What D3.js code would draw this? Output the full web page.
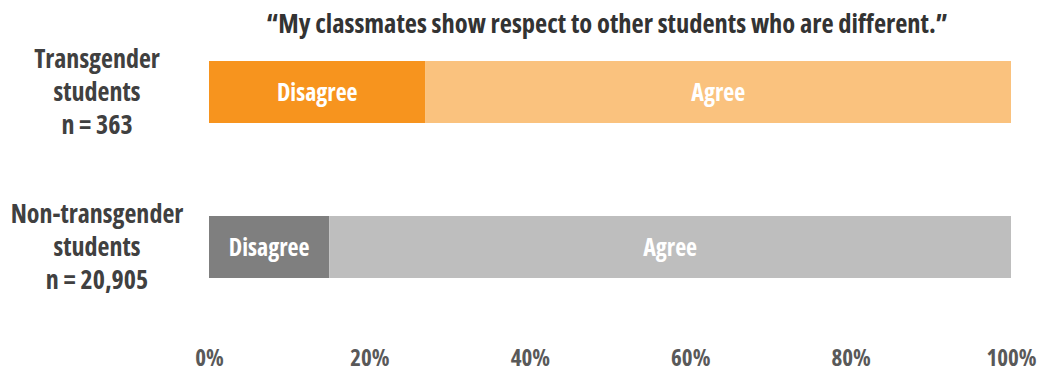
<!DOCTYPE html>
<html>
<head>
<meta charset="utf-8">
<script src="https://cdn.jsdelivr.net/npm/d3@7"></script>
<style>
  html, body { margin: 0; padding: 0; background: #fff; }
  svg text { font-family: "Open Sans", "Liberation Sans Narrow", sans-serif; font-stretch: 82%; font-weight: 700; }
</style>
</head>
<body>
<svg id="chart" width="1044" height="372"></svg>
<script>
// Survey responses, percent of each group
const groups = ["Transgender", "Non-transgender"];
const groupLines = [["Transgender", "students", "n = 363"], ["Non-transgender", "students", "n = 20,905"]];
const responses = ["Disagree", "Agree"];
const disagree = [27, 15];
const agree = [73, 85];
const tickValues = [0, 20, 40, 60, 80, 100];
const title = "\u201CMy classmates show respect to other students who are different.\u201D";

const colors = {
  Transgender: { Disagree: "#F7941E", Agree: "#FAC27E" },
  "Non-transgender": { Disagree: "#7F7F7F", Agree: "#BEBEBE" }
};

const svg = d3.select("#chart");
const x = d3.scaleLinear().domain([0, 100]).range([209, 1011]);
const y = d3.scaleBand().domain(groups).range([61, 278]).paddingInner(0.6).paddingOuter(0);

// Title
svg.append("text")
  .attr("x", (x(0) + x(100)) / 2 - 3)
  .attr("y", 33)
  .attr("text-anchor", "middle")
  .attr("fill", "#333333")
  .style("font-size", "26.5px")
  .text(title);

// Stack each group's segments
const rows = groups.map((g, i) => ({ group: g, values: [disagree[i], agree[i]] }));
const segs = [];
rows.forEach(r => {
  let acc = 0;
  r.values.forEach((v, j) => {
    segs.push({ group: r.group, response: responses[j], x0: acc, x1: acc + v });
    acc += v;
  });
});

const bars = svg.append("g");
bars.selectAll("rect").data(segs).join("rect")
  .attr("x", d => x(d.x0))
  .attr("width", d => x(d.x1) - x(d.x0))
  .attr("y", d => y(d.group))
  .attr("height", y.bandwidth())
  .attr("fill", d => colors[d.group][d.response]);

bars.selectAll("text").data(segs).join("text")
  .attr("x", d => (x(d.x0) + x(d.x1)) / 2)
  .attr("y", d => y(d.group) + y.bandwidth() / 2)
  .attr("dy", "0.36em")
  .attr("text-anchor", "middle")
  .attr("fill", "#ffffff")
  .style("font-size", "24px")
  .text(d => d.response);

// Group labels on the left
groups.forEach((g, i) => {
  const cy = y(g) + y.bandwidth() / 2;
  const t = svg.append("text")
    .attr("x", 97)
    .attr("text-anchor", "middle")
    .attr("fill", "#404040")
    .style("font-size", "26px");
  groupLines[i].forEach((line, k) => {
    t.append("tspan")
      .attr("x", 97)
      .attr("y", cy + (k - 1) * 33 + 9)
      .text(line);
  });
});

// Percentage axis
const axis = d3.axisBottom(x).tickValues(tickValues).tickFormat(d => d + "%").tickSize(0).tickPadding(0);
const ax = svg.append("g").attr("transform", "translate(0,350)").call(axis);
ax.select(".domain").remove();
ax.selectAll("text")
  .attr("fill", "#595959")
  .attr("dy", "0.7em")
  .style("font-size", "23px");
</script>
</body>
</html>
